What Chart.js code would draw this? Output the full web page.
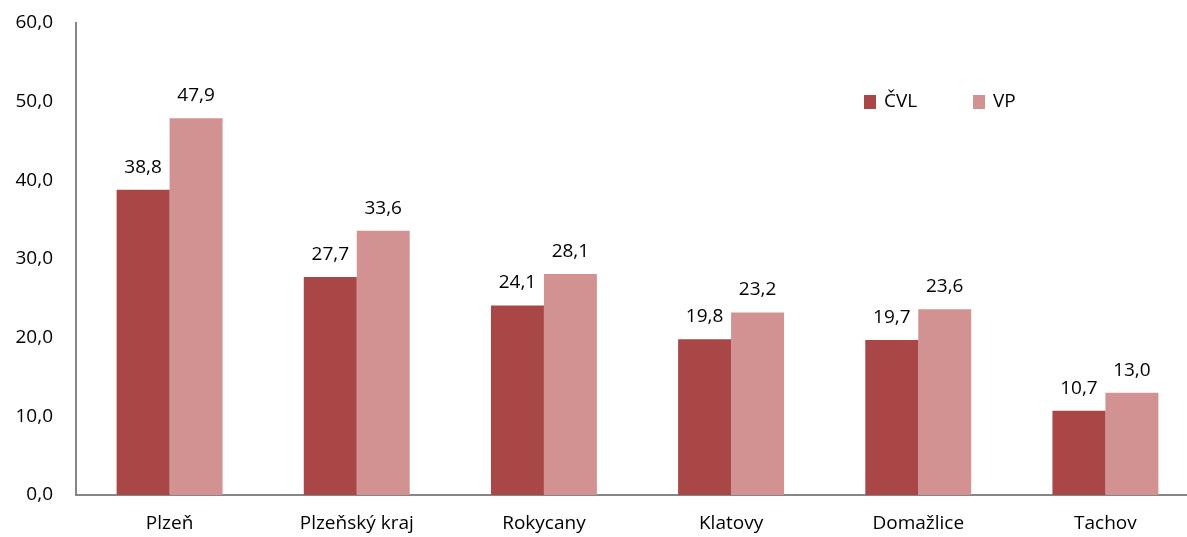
<!DOCTYPE html>
<html><head><meta charset="utf-8">
<script src="https://cdn.jsdelivr.net/npm/chart.js@4/dist/chart.umd.min.js"></script>
<style>html,body{margin:0;padding:0;background:#fff;overflow:hidden;width:1187px;height:537px}
#wrap{width:1199px;height:537px;position:relative}</style>
</head><body><div id="wrap"><canvas id="c"></canvas></div>
<script>
const categories = ["Plzeň","Plzeňský kraj","Rokycany","Klatovy","Domažlice","Tachov"];
const cvl = [38.8,27.7,24.1,19.8,19.7,10.7];
const vp = [47.9,33.6,28.1,23.2,23.6,13.0];
const seriesNames = ["ČVL","VP"];
const FONT = "'Open Sans', 'Liberation Sans', sans-serif";
const FS = 19;
const fmt = v => v.toFixed(1).replace('.', ',');

const labelsPlugin = {
  id:'vlabels',
  afterDatasetsDraw(chart){
    const ctx = chart.ctx;
    ctx.save();
    ctx.font = FS + "px " + FONT;
    ctx.fillStyle = "#000";
    ctx.textAlign = "center";
    ctx.textBaseline = "alphabetic";
    chart.data.datasets.forEach((ds,i)=>{
      chart.getDatasetMeta(i).data.forEach((bar,j)=>{
        ctx.fillText(fmt(ds.data[j]), bar.x, bar.y - 17);
      });
    });
    ctx.restore();
  }
};
const legendPlugin = {
  id:'mylegend',
  afterDraw(chart){
    const ctx = chart.ctx;
    ctx.save();
    ctx.font = FS + "px " + FONT;
    ctx.textBaseline = "middle";
    const xs = [864, 973];
    chart.data.datasets.forEach((ds,i)=>{
      ctx.fillStyle = ds.backgroundColor;
      ctx.fillRect(xs[i], 95, 12, 14);
      ctx.fillStyle = "#000";
      ctx.fillText(ds.label, xs[i]+20, 102);
    });
    ctx.restore();
  }
};

new Chart(document.getElementById('c'), {
  type:'bar',
  data:{
    labels:categories,
    datasets:[
      {label:seriesNames[0], data:cvl, backgroundColor:"#A94746"},
      {label:seriesNames[1], data:vp, backgroundColor:"#D39292"}
    ]
  },
  options:{
    responsive:true, maintainAspectRatio:false, animation:false,
    layout:{padding:{top:23,right:0,left:0,bottom:0}},
    plugins:{legend:{display:false}, tooltip:{enabled:false}},
    datasets:{bar:{categoryPercentage:0.566, barPercentage:1.0}},
    scales:{
      x:{
        grid:{display:false, drawTicks:false},
        border:{color:"#868686", width:2},
        ticks:{color:"#000", font:{family:FONT,size:FS}, padding:17},
        afterFit(s){ s.height = 42; s.paddingLeft = 0; s.paddingRight = 0; }
      },
      y:{
        min:0,max:60,
        grid:{display:false, drawTicks:true, tickLength:7, tickColor:"#868686", tickWidth:2, drawOnChartArea:false},
        border:{color:"#868686", width:2},
        ticks:{stepSize:10, color:"#000", font:{family:FONT,size:FS}, padding:16, callback:v=>fmt(v)},
        afterFit(s){ s.width = 76; s.paddingTop = 0; s.paddingBottom = 0; }
      }
    }
  },
  plugins:[labelsPlugin, legendPlugin]
});
</script></body></html>
